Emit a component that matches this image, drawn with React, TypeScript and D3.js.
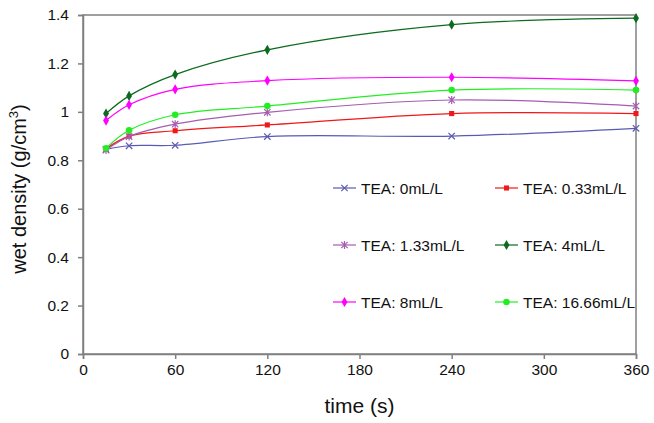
import React, { useEffect, useRef } from 'react'
import * as d3 from 'd3'

const times = [15, 30, 60, 120, 240, 360]
const seriesNames = ['TEA: 0mL/L', 'TEA: 0.33mL/L', 'TEA: 1.33mL/L', 'TEA: 4mL/L', 'TEA: 8mL/L', 'TEA: 16.66mL/L']
const tea0 = [0.845, 0.86, 0.862, 0.898, 0.9, 0.932]
const tea033 = [0.848, 0.9, 0.922, 0.946, 0.993, 0.993]
const tea133 = [0.842, 0.898, 0.949, 0.998, 1.049, 1.024]
const tea4 = [0.993, 1.066, 1.154, 1.256, 1.36, 1.387]
const tea8 = [0.964, 1.029, 1.093, 1.129, 1.143, 1.128]
const tea1666 = [0.85, 0.924, 0.988, 1.024, 1.09, 1.09]
const xTicks = [0, 60, 120, 180, 240, 300, 360]
const yTicks = [0, 0.2, 0.4, 0.6, 0.8, 1, 1.2, 1.4]

const seriesValues = [tea0, tea033, tea133, tea4, tea8, tea1666]
const colors = ['#5a5ab4', '#f01818', '#a45db0', '#0b6b1e', '#ff00ff', '#22ee22']
const markers = ['x', 'square', 'star', 'diamond', 'diamond', 'circle']

export default function App() {
  const ref = useRef<SVGSVGElement>(null)

  useEffect(() => {
    const width = 654
    const height = 423
    const m = { left: 83, right: 18, top: 15, bottom: 69 }
    const svg = d3.select(ref.current)
    svg.selectAll('*').remove()

    const x = d3.scaleLinear().domain([0, 360]).range([m.left, width - m.right])
    const y = d3.scaleLinear().domain([0, 1.4]).range([height - m.bottom, m.top])
    const font = 'Liberation Sans, Arial, sans-serif'

    // frame
    svg.append('rect')
      .attr('x', m.left).attr('y', m.top)
      .attr('width', x(360) - m.left).attr('height', y(0) - m.top)
      .attr('fill', 'none').attr('stroke', '#808080').attr('stroke-width', 1.5)

    const xAxis = svg.append('g')
      .attr('transform', 'translate(0,' + y(0) + ')')
      .call(d3.axisBottom(x).tickValues(xTicks).tickSize(5).tickPadding(5).tickFormat(d3.format('d')))
    const yAxis = svg.append('g')
      .attr('transform', 'translate(' + m.left + ',0)')
      .call(d3.axisLeft(y).tickValues(yTicks).tickSize(5).tickPadding(9).tickFormat(d => String(+d)))
    for (const ax of [xAxis, yAxis]) {
      ax.select('.domain').attr('stroke', '#808080').attr('stroke-width', 1.5)
      ax.selectAll('.tick line').attr('stroke', '#808080').attr('stroke-width', 1.5)
      ax.selectAll('.tick text').attr('fill', '#111').attr('font-size', 15.5).attr('font-family', font)
    }

    const line = d3.line<number>()
      .x((d, i) => x(times[i]))
      .y(d => y(d))
      .curve(d3.curveCatmullRom.alpha(0.5))

    const drawMarker = (g: any, kind: string, color: string) => {
      if (kind === 'x' || kind === 'star') {
        const s = 3.2
        g.append('path')
          .attr('d', `M${-s},${-s}L${s},${s}M${-s},${s}L${s},${-s}` + (kind === 'star' ? `M0,${-s - 0.8}L0,${s + 0.8}` : ''))
          .attr('stroke', color).attr('stroke-width', 1.2).attr('fill', 'none')
      } else {
        const type = kind === 'square' ? d3.symbolSquare : kind === 'diamond' ? d3.symbolDiamond : d3.symbolCircle
        const size = kind === 'square' ? 26 : kind === 'diamond' ? 30 : 34
        g.append('path').attr('d', d3.symbol().type(type).size(size)()).attr('fill', color)
      }
    }

    seriesValues.forEach((vals, si) => {
      svg.append('path')
        .datum(vals)
        .attr('d', line)
        .attr('fill', 'none')
        .attr('stroke', colors[si])
        .attr('stroke-width', 1.2)
      vals.forEach((v, i) => {
        const g = svg.append('g').attr('transform', 'translate(' + x(times[i]) + ',' + y(v) + ')')
        drawMarker(g, markers[si], colors[si])
      })
    })

    // legend
    const colX = [333, 495]
    const rowY = [188, 245, 302]
    seriesNames.forEach((name, i) => {
      const lx = colX[i % 2]
      const ly = rowY[Math.floor(i / 2)]
      const g = svg.append('g').attr('transform', 'translate(' + lx + ',' + ly + ')')
      g.append('line').attr('x1', 0).attr('x2', 23).attr('y1', 0).attr('y2', 0)
        .attr('stroke', colors[i]).attr('stroke-width', 1.2)
      drawMarker(g.append('g').attr('transform', 'translate(11.5,0)'), markers[i], colors[i])
      g.append('text')
        .attr('x', 28).attr('y', 5.5)
        .attr('font-size', 15.5).attr('font-family', font).attr('fill', '#111')
        .text(name)
    })

    svg.append('text')
      .attr('x', (m.left + x(360)) / 2).attr('y', 413)
      .attr('text-anchor', 'middle')
      .attr('font-size', 21).attr('font-family', font).attr('fill', '#111')
      .text('time (s)')

    const yt = svg.append('text')
      .attr('transform', 'translate(26,189) rotate(-90)')
      .attr('text-anchor', 'middle')
      .attr('font-size', 20).attr('font-family', font).attr('fill', '#111')
    yt.append('tspan').text('wet density (g/cm')
    yt.append('tspan').attr('font-size', 13).attr('dy', -8).text('3')
    yt.append('tspan').attr('dy', 8).text(')')
  }, [])

  return <svg ref={ref} width={654} height={423} style={{ position: 'absolute', left: 0, top: 0, background: '#fff' }} />
}
